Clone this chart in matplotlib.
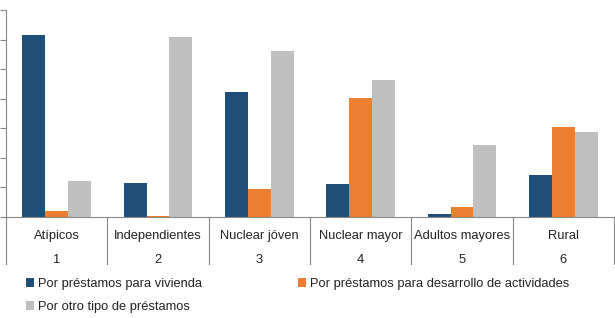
import matplotlib
matplotlib.use("Agg")
import matplotlib.pyplot as plt
import matplotlib.transforms as mtransforms
import numpy as np

plt.rcParams['font.family'] = ['Liberation Sans', 'DejaVu Sans']

# datos
categorias = ['Atípicos', 'Independientes', 'Nuclear jóven', 'Nuclear mayor', 'Adultos mayores', 'Rural']
numeros = ['1', '2', '3', '4', '5', '6']
vivienda = [6.17, 1.16, 4.24, 1.12, 0.09, 1.43]
actividades = [0.20, 0.03, 0.95, 4.03, 0.33, 3.06]
otros = [1.23, 6.08, 5.63, 4.64, 2.43, 2.86]

series = [
    ('Por préstamos para vivienda', vivienda, '#1F4E79'),
    ('Por préstamos para desarrollo de actividades', actividades, '#ED7D31'),
    ('Por otro tipo de préstamos', otros, '#BFBFBF'),
]

fig = plt.figure(figsize=(6.15, 3.18), dpi=100)
ax = fig.add_axes([6 / 615, (318 - 217) / 318, 608 / 615, 207 / 318])

x = np.arange(len(categorias))
ancho = 0.225
barras = []
for k, (nombre, vals, color) in enumerate(series):
    b = ax.bar(x + (k - 1) * ancho, vals, ancho, color=color, label=nombre, linewidth=0)
    barras.append(b)

ax.set_xlim(-0.5, len(categorias) - 0.5)
ax.set_ylim(0, 7)
ax.set_yticks(np.arange(0, 8))
ax.set_yticklabels([])
ax.set_xticks([])
ax.tick_params(axis='y', direction='out', length=4, color='#888888', width=0.8)
for s in ['top', 'right']:
    ax.spines[s].set_visible(False)
for s in ['left', 'bottom']:
    ax.spines[s].set_color('#888888')
    ax.spines[s].set_linewidth(0.8)

# eje de categorias con separadores
trans = mtransforms.blended_transform_factory(ax.transData, ax.transAxes)
for i in range(len(categorias) + 1):
    ax.plot([i - 0.5, i - 0.5], [0, -47 / 207], transform=trans, color='#888888',
            lw=0.8, clip_on=False)
for i, (cat, num) in enumerate(zip(categorias, numeros)):
    ax.text(i, -19 / 207, cat, transform=trans, ha='center', va='center', fontsize=9.3, color='#222222')
    ax.text(i, -43 / 207, num, transform=trans, ha='center', va='center', fontsize=9.3, color='#222222')

handles = [barras[0], barras[2], barras[1]]
labels = [series[0][0], series[2][0], series[1][0]]
fig.legend(handles, labels, ncol=2, loc='upper left', bbox_to_anchor=(26 / 615, 1 - 278 / 318),
           frameon=False, fontsize=9.3, handlelength=0.6, handleheight=0.6, handletextpad=0.35,
           columnspacing=7.4, labelspacing=0.85, borderaxespad=0, borderpad=0, labelcolor='#222222')

fig.savefig('out.png', dpi=100)
